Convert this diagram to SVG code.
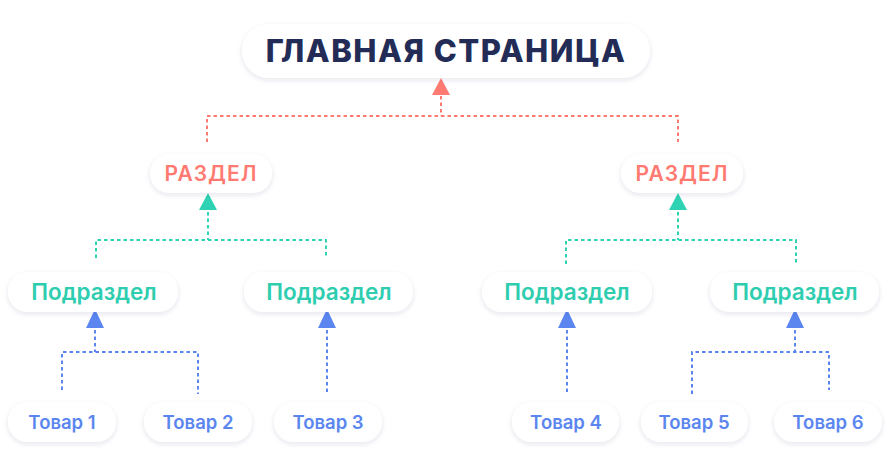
<svg xmlns="http://www.w3.org/2000/svg" width="890" height="452" viewBox="0 0 890 452">
<defs>
<filter id="sh" x="-20%" y="-40%" width="140%" height="180%">
<feDropShadow dx="0" dy="2" stdDeviation="2.5" flood-color="#2a3560" flood-opacity="0.12"/>
</filter>
</defs>
<style>
.box{fill:#ffffff;filter:url(#sh)}
text{font-family:Inter,"Noto Sans",sans-serif;text-anchor:middle}
.t0{font-size:31px;font-weight:800;fill:#232c56;letter-spacing:1.5px}
.t1{font-size:21px;font-weight:600;fill:#ff7b72;letter-spacing:1px}
.t2{font-size:22.5px;font-weight:600;fill:#2ecdb0}
.t3{font-size:18.5px;font-weight:600;fill:#5b86f0}
.c{fill:none;stroke-width:2;stroke-dasharray:3.5 3}
.r{stroke:#ff7b72}.g{stroke:#2ed3b4}.b{stroke:#5b86f0}
.tr{fill:#ff7b72}.tg{fill:#2ed3b4}.tb{fill:#5b86f0}
</style>
<g id="connectors">
<path class="c r" d="M441 96 V116 M207 142 V116 H678 V142"/>
<polygon class="tr" points="441,78 450,95 432,95"/>
<path class="c g" d="M208 212 V240 M96 258 V240 H326 V258"/>
<polygon class="tg" points="208,193 217,210 199,210"/>
<path class="c g" d="M678 212 V240 M566 264 V240 H796 V264"/>
<polygon class="tg" points="678,193 687,210 669,210"/>
<path class="c b" d="M95 330 V352 M62 390 V352 H198 V394"/>
<polygon class="tb" points="95,309 104,328 86,328"/>
<path class="c b" d="M327 330 V394"/>
<polygon class="tb" points="327,309 336,328 318,328"/>
<path class="c b" d="M567 330 V394"/>
<polygon class="tb" points="567,309 576,328 558,328"/>
<path class="c b" d="M795 330 V352 M692 394 V352 H829 V390"/>
<polygon class="tb" points="795,309 804,328 786,328"/>
</g>
<g id="main"><rect class="box" x="242" y="24" width="408" height="54" rx="27"/><text class="t0" x="446" y="62">ГЛАВНАЯ СТРАНИЦА</text></g>
<g id="razdel1"><rect class="box" x="150" y="154" width="122" height="39" rx="19.5"/><text class="t1" x="211" y="181">РАЗДЕЛ</text></g>
<g id="razdel2"><rect class="box" x="621" y="154" width="122" height="39" rx="19.5"/><text class="t1" x="682" y="181">РАЗДЕЛ</text></g>
<g id="podrazdel1"><rect class="box" x="8" y="272" width="170" height="40" rx="20"/><text class="t2" x="94" y="300">Подраздел</text></g>
<g id="podrazdel2"><rect class="box" x="244" y="272" width="169" height="40" rx="20"/><text class="t2" x="329" y="300">Подраздел</text></g>
<g id="podrazdel3"><rect class="box" x="482" y="272" width="170" height="40" rx="20"/><text class="t2" x="567" y="300">Подраздел</text></g>
<g id="podrazdel4"><rect class="box" x="710" y="272" width="169" height="40" rx="20"/><text class="t2" x="795" y="300">Подраздел</text></g>
<g id="tovar1"><rect class="box" x="8" y="402" width="108" height="40" rx="20"/><text class="t3" x="62" y="429">Товар 1</text></g>
<g id="tovar2"><rect class="box" x="144" y="402" width="108" height="40" rx="20"/><text class="t3" x="198" y="429">Товар 2</text></g>
<g id="tovar3"><rect class="box" x="274" y="402" width="108" height="40" rx="20"/><text class="t3" x="328" y="429">Товар 3</text></g>
<g id="tovar4"><rect class="box" x="512" y="402" width="107" height="40" rx="20"/><text class="t3" x="566" y="429">Товар 4</text></g>
<g id="tovar5"><rect class="box" x="641" y="402" width="107" height="40" rx="20"/><text class="t3" x="694" y="429">Товар 5</text></g>
<g id="tovar6"><rect class="box" x="774" y="402" width="108" height="40" rx="20"/><text class="t3" x="828" y="429">Товар 6</text></g>
</svg>
